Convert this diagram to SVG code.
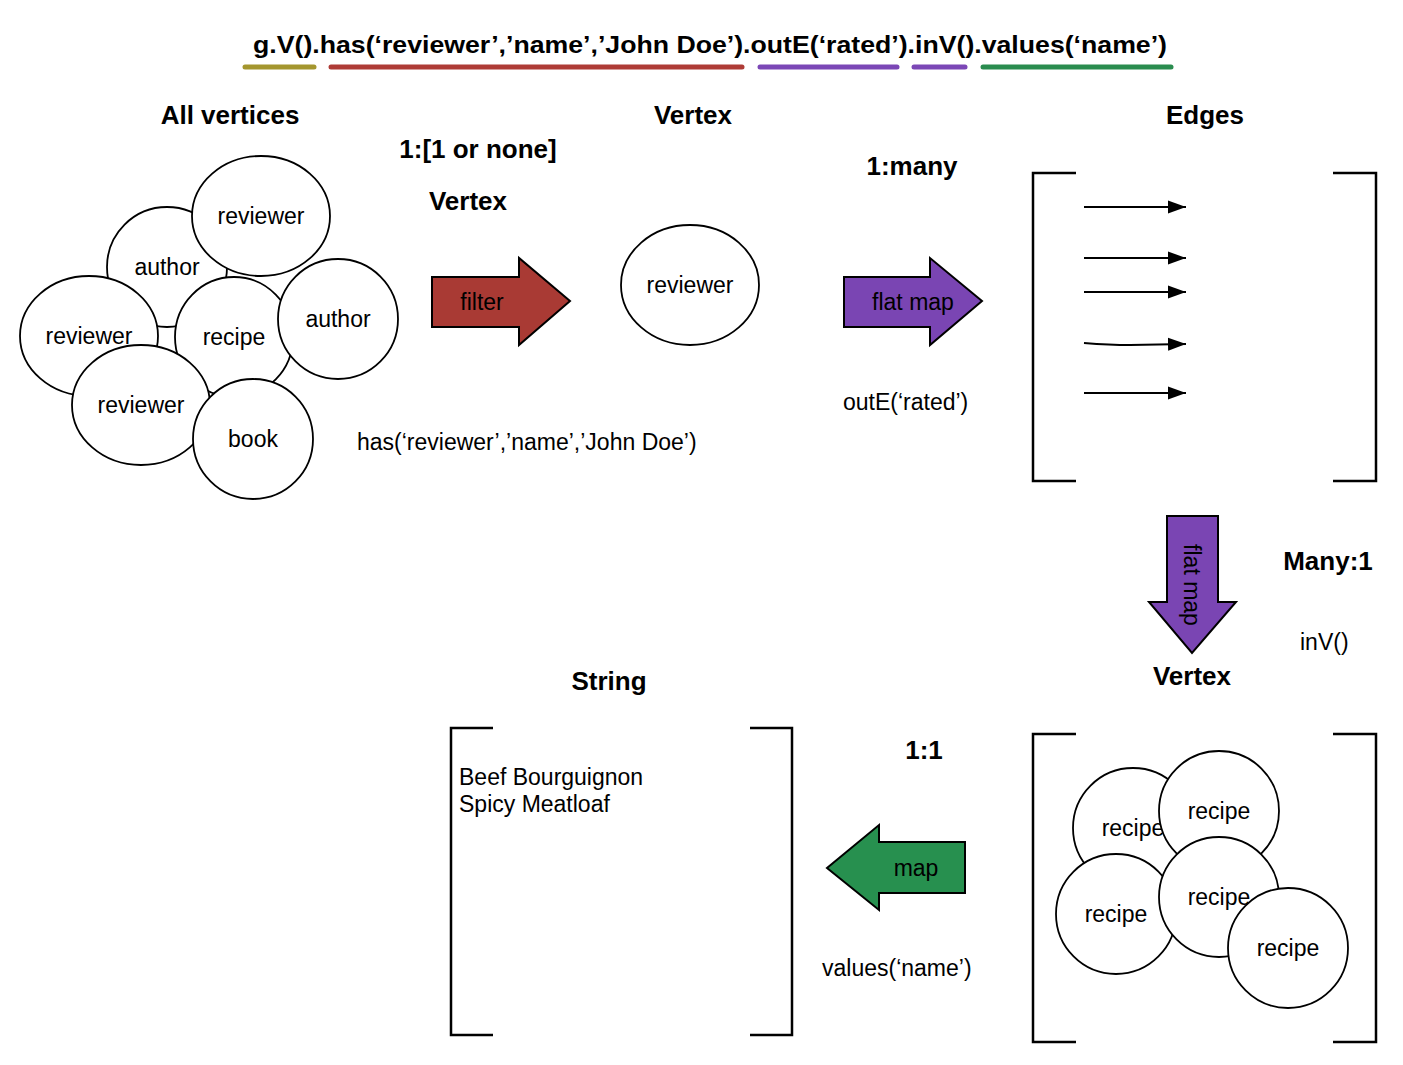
<svg xmlns="http://www.w3.org/2000/svg" width="1403" height="1065" viewBox="0 0 1403 1065">
<defs>
<style>
text{font-family:"Liberation Sans",Arial,Helvetica,sans-serif;fill:#000}
.h{font-size:26px;font-weight:bold;text-anchor:middle}
.lbl{font-size:23px;text-anchor:middle;dominant-baseline:central}
.t{font-size:23px}
.node{fill:#fff;stroke:#000;stroke-width:1.8}
.br{fill:none;stroke:#000;stroke-width:2.5}
.ul{stroke-width:5;stroke-linecap:round;fill:none}
.big{stroke:#000;stroke-width:2;stroke-linejoin:miter}
.edge{stroke:#000;stroke-width:2;fill:none}
</style>
<marker id="ah" markerUnits="userSpaceOnUse" markerWidth="20" markerHeight="14" refX="18" refY="7" orient="auto">
<path d="M0,0.5 L18,7 L0,13.5 z" fill="#000"/>
</marker>
</defs>
<rect width="1403" height="1065" fill="#fff"/>

<g id="title">
<text x="253" y="53" font-size="24" font-weight="bold" textLength="914" lengthAdjust="spacingAndGlyphs">g.V().has(‘reviewer’,’name’,’John Doe’).outE(‘rated’).inV().values(‘name’)</text>
<line class="ul" x1="245" y1="67" x2="314" y2="67" stroke="#A4962E"/>
<line class="ul" x1="331" y1="67" x2="742" y2="67" stroke="#AE3B36"/>
<line class="ul" x1="760" y1="67" x2="897" y2="67" stroke="#7B47B6"/>
<line class="ul" x1="914" y1="67" x2="965" y2="67" stroke="#7B47B6"/>
<line class="ul" x1="983" y1="67" x2="1171" y2="67" stroke="#2A8C4F"/>
</g>

<g id="headings">
<text class="h" x="230" y="124">All vertices</text>
<text class="h" x="693" y="124">Vertex</text>
<text class="h" x="1205" y="124">Edges</text>
<text class="h" x="478" y="158">1:[1 or none]</text>
<text class="h" x="468" y="210">Vertex</text>
<text class="h" x="912" y="175">1:many</text>
<text class="h" x="1328" y="570">Many:1</text>
<text class="h" x="1192" y="685">Vertex</text>
<text class="h" x="609" y="690">String</text>
<text class="h" x="924" y="759">1:1</text>
</g>

<g id="all-vertices">
<g id="n-author1"><ellipse class="node" cx="167" cy="267" rx="60" ry="60"/><text class="lbl" x="167" y="267">author</text></g>
<g id="n-reviewer1"><ellipse class="node" cx="261" cy="216" rx="69" ry="60"/><text class="lbl" x="261" y="216">reviewer</text></g>
<g id="n-reviewer2"><ellipse class="node" cx="89" cy="336" rx="69" ry="60"/><text class="lbl" x="89" y="336">reviewer</text></g>
<g id="n-recipe1"><ellipse class="node" cx="234" cy="337" rx="59" ry="60"/><text class="lbl" x="234" y="337">recipe</text></g>
<g id="n-author2"><ellipse class="node" cx="338" cy="319" rx="60" ry="60"/><text class="lbl" x="338" y="319">author</text></g>
<g id="n-reviewer3"><ellipse class="node" cx="141" cy="405" rx="69" ry="60"/><text class="lbl" x="141" y="405">reviewer</text></g>
<g id="n-book"><ellipse class="node" cx="253" cy="439" rx="60" ry="60"/><text class="lbl" x="253" y="439">book</text></g>
</g>

<g id="n-reviewer-selected"><ellipse class="node" cx="690" cy="285" rx="69" ry="60"/><text class="lbl" x="690" y="285">reviewer</text></g>

<g id="edges-bracket">
<path class="br" d="M1076,173 H1033 V481 H1076"/>
<path class="br" d="M1333,173 H1376 V481 H1333"/>
</g>

<g id="recipes">
<path class="br" d="M1076,734 H1033 V1042 H1076"/>
<path class="br" d="M1333,734 H1376 V1042 H1333"/>
<g id="n-recipeA"><circle class="node" cx="1133" cy="828" r="60"/><text class="lbl" x="1133" y="828">recipe</text></g>
<g id="n-recipeB"><circle class="node" cx="1219" cy="811" r="60"/><text class="lbl" x="1219" y="811">recipe</text></g>
<g id="n-recipeC"><circle class="node" cx="1116" cy="914" r="60"/><text class="lbl" x="1116" y="914">recipe</text></g>
<g id="n-recipeD"><circle class="node" cx="1219" cy="897" r="60"/><text class="lbl" x="1219" y="897">recipe</text></g>
<g id="n-recipeE"><circle class="node" cx="1288" cy="948" r="60"/><text class="lbl" x="1288" y="948">recipe</text></g>
</g>

<g id="strings">
<path class="br" d="M493,728 H451 V1035 H493"/>
<path class="br" d="M750,728 H792 V1035 H750"/>
<text class="t" x="459" y="785">Beef Bourguignon</text>
<text class="t" x="459" y="812">Spicy Meatloaf</text>
</g>

<g id="connectors">
<g id="filter-arrow"><path class="big" fill="#A93A34" d="M432,277 H519 V258 L570,301 L519,345 V327 H432 Z"/><text class="lbl" x="482" y="302">filter</text></g>
<g id="flatmap-arrow"><path class="big" fill="#7A45B3" d="M844,277 H930 V258 L982,301 L930,345 V327 H844 Z"/><text class="lbl" x="913" y="302">flat map</text></g>
<g id="flatmap-down-arrow"><path class="big" fill="#7A45B3" d="M1167,516 H1218 V602 H1236 L1192,653 L1149,602 H1167 Z"/><text class="lbl" x="0" y="0" transform="translate(1192,585) rotate(90)">flat map</text></g>
<g id="map-arrow"><path class="big" fill="#27904F" d="M965,842 V893 H879 V910 L827,868 L879,825 V842 Z"/><text class="lbl" x="916" y="868">map</text></g>
<line class="edge" x1="1084" y1="207" x2="1186" y2="207" marker-end="url(#ah)"/>
<line class="edge" x1="1084" y1="258" x2="1186" y2="258" marker-end="url(#ah)"/>
<line class="edge" x1="1084" y1="292" x2="1186" y2="292" marker-end="url(#ah)"/>
<path class="edge" d="M1084,343 Q1110,345 1130,345 L1186,344" marker-end="url(#ah)"/>
<line class="edge" x1="1084" y1="393" x2="1186" y2="393" marker-end="url(#ah)"/>
</g>

<g id="step-labels">
<text class="t" x="357" y="450">has(‘reviewer’,’name’,’John Doe’)</text>
<text class="t" x="843" y="410">outE(‘rated’)</text>
<text class="t" x="1300" y="650">inV()</text>
<text class="t" x="822" y="976">values(‘name’)</text>
</g>
</svg>
